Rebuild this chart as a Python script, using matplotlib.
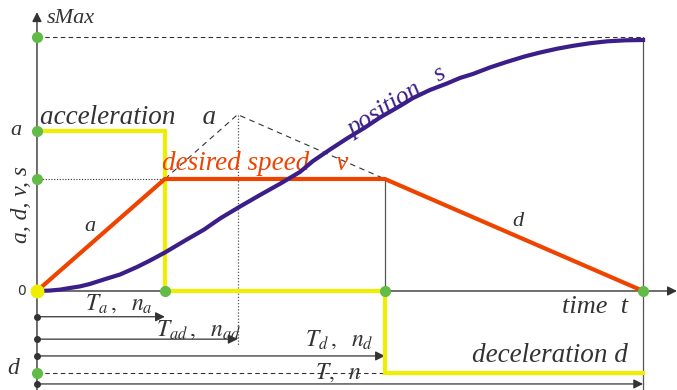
import matplotlib
matplotlib.use("Agg")
import matplotlib.pyplot as plt

# --- profile parameters (time units, value units) ---
t_a = 2.11        # end of acceleration phase
t_d = 5.74        # start of deceleration phase
t_end = 10.0      # end of motion
t_ad = 3.31       # crossing of accel / decel ramps
v_peak = 1.575    # value at that crossing
acc_level = 1.43
dec_level = -0.73
v_level = 1.0
s_max = 2.27

# desired speed v
v_t = [0.0, t_a, t_d, t_end]
v_vals = [0.0, v_level, v_level, 0.0]

# acceleration / deceleration
acc_t = [0.0, t_a, t_a, t_d, t_d, t_end]
acc_vals = [acc_level, acc_level, 0.0, 0.0, dec_level, dec_level]

# position s
s_t = [0.0, 0.215, 0.380, 0.545, 0.710, 0.875, 1.106, 1.370, 1.650, 1.865,
       2.112, 2.442, 2.756, 3.020, 3.350, 3.680, 4.010, 4.340, 4.554, 4.835,
       5.116, 5.413, 5.660, 5.990, 6.205, 6.485, 6.766, 6.980, 7.195, 7.475,
       7.756, 8.053, 8.300, 8.581, 8.845, 9.125, 9.406, 9.703, 10.0]
s_vals = [0.0, 0.004, 0.012, 0.027, 0.041, 0.063, 0.103, 0.147, 0.214, 0.272,
          0.344, 0.450, 0.548, 0.647, 0.754, 0.857, 0.957, 1.063, 1.160, 1.263,
          1.362, 1.460, 1.549, 1.652, 1.723, 1.795, 1.853, 1.902, 1.938, 1.996,
          2.046, 2.095, 2.129, 2.163, 2.189, 2.212, 2.229, 2.238, 2.241]

# interval arrows below the time axis: (end time, y)
arrow_ends = [t_a, t_ad, t_d, t_end]
arrow_ys = [-0.23, -0.43, -0.58, -0.83]

YELLOW = "#f0ee00"
ORANGE = "#ee4400"
PURPLE = "#3b1e88"
GREEN = "#62bb46"
INK = "#333333"
SERIF = "Liberation Serif"

fig = plt.figure(figsize=(6.77, 3.90), dpi=100)
ax = fig.add_axes([0, 0, 1, 1])
ax.set_xlim(-0.61, 10.56)
ax.set_ylim(-0.884, 2.598)
ax.axis("off")

# axes with arrows
ax.annotate("", xy=(10.56, 0), xytext=(0, 0),
            arrowprops=dict(arrowstyle="-|>", color=INK, lw=1.0,
                            mutation_scale=14, shrinkA=0, shrinkB=0))
ax.annotate("", xy=(0, 2.49), xytext=(0, -0.884),
            arrowprops=dict(arrowstyle="-|>", color=INK, lw=1.0,
                            mutation_scale=14, shrinkA=0, shrinkB=0))

# guide lines
ax.plot([0, t_end], [s_max, s_max], color=INK, lw=0.8, ls=(0, (4, 3)))
ax.plot([0, t_a], [v_level, v_level], color=INK, lw=0.8, ls=(0, (1, 1.5)))
ax.plot([0, t_end], [dec_level, dec_level], color=INK, lw=0.8, ls=(0, (4, 3)))
ax.plot([t_d, t_d], [v_level, 0], color="#555555", lw=0.9)
ax.plot([t_end, t_end], [s_max, -0.884], color="#555555", lw=0.9)
ax.plot([t_ad, t_ad], [v_peak, -0.48], color="#555555", lw=0.9, ls=(0, (1, 1.5)))
ax.plot([t_a, t_ad, t_d], [v_level, v_peak, v_level], color=INK, lw=0.8,
        ls=(0, (5, 4)))

# interval arrows
for te, yy in zip(arrow_ends, arrow_ys):
    ax.annotate("", xy=(te, yy), xytext=(0, yy),
                arrowprops=dict(arrowstyle="-|>", color=INK, lw=0.9,
                                mutation_scale=14, shrinkA=0, shrinkB=0))
    ax.plot([0], [yy], "o", color=INK, ms=4, zorder=5)

# curves
ax.plot(acc_t, acc_vals, color=YELLOW, lw=3, solid_joinstyle="miter", zorder=3)
ax.plot(v_t, v_vals, color=ORANGE, lw=3, zorder=4)
ax.plot(s_t, s_vals, color=PURPLE, lw=3, zorder=4)

# markers
for xx, yy in [(0, s_max), (0, acc_level), (0, v_level), (0, dec_level),
               (t_a, 0), (t_d, 0), (t_end, 0)]:
    ax.plot([xx], [yy], "o", color=GREEN, ms=7, zorder=6)
ax.plot([0], [0], "o", color=YELLOW, ms=9, zorder=6)

it = dict(family=SERIF, style="italic")

# value-axis labels
ax.text(0.16, 2.43, "sMax", fontsize=16, color=INK, va="center", ha="left", **it)
ax.text(-0.34, acc_level, "a", fontsize=16, color=INK, va="center", ha="center", **it)
ax.text(-0.25, 0.0, "0", fontsize=10, color=INK, va="center", ha="center",
        family="DejaVu Sans")
ax.text(-0.40, dec_level + 0.04, "d", fontsize=17, color=INK, va="center",
        ha="center", **it)
ax.text(-0.25, 0.77, "a, d, v, s", fontsize=17, color=INK, va="center",
        ha="center", rotation=90, **it)

# curve labels
ax.text(0.05, acc_level + 0.12, "acceleration    a", fontsize=19.5, color=INK,
        va="center", ha="left", **it)
ax.text(2.07, v_level + 0.14, "desired speed    v", fontsize=19.5, color=ORANGE,
        va="center", ha="left", **it)
ax.text(5.95, 1.69, "position   s", fontsize=18.5, color=PURPLE, va="center",
        ha="center", rotation=32, **it)
ax.text(0.88, 0.58, "a", fontsize=16, color=INK, va="center", ha="center", **it)
ax.text(7.93, 0.62, "d", fontsize=16, color=INK, va="center", ha="center", **it)
ax.text(9.75, -0.14, "time  t", fontsize=19, color=INK, va="center", ha="right", **it)
ax.text(9.75, -0.58, "deceleration d", fontsize=19.5, color=INK, va="center",
        ha="right", **it)

# interval labels
ax.text(0.80, -0.11, r"$T_a\,,\ \ n_a$", fontsize=17, color=INK, va="center",
        ha="left", math_fontfamily="stix")
ax.text(1.97, -0.34, r"$T_{ad}\,,\ \ n_{ad}$", fontsize=17, color=INK,
        va="center", ha="left", math_fontfamily="stix")
ax.text(4.42, -0.43, r"$T_d\,,\ \ n_d$", fontsize=17, color=INK, va="center",
        ha="left", math_fontfamily="stix")
ax.text(4.58, -0.72, r"$T,\ \ n$", fontsize=17, color=INK, va="center",
        ha="left", math_fontfamily="stix")

fig.savefig("out.png", dpi=100)
